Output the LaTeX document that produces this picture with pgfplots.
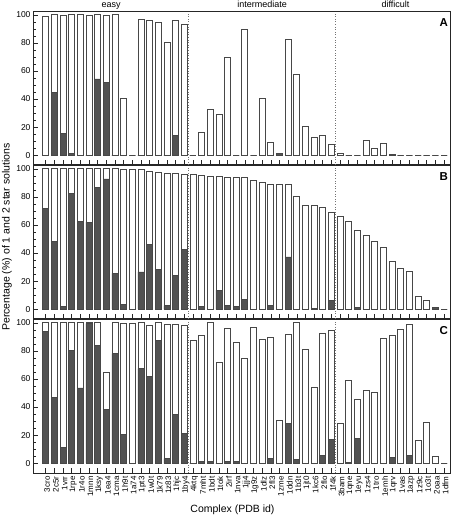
\documentclass[border=0pt]{standalone}
\usepackage{fontspec}
\setmainfont{Liberation Sans}
\usepackage{pgfplots}
\usepackage{pgfplotstable}
\pgfplotsset{compat=1.18}

\pgfplotstableread{
x total dark
0 99 0
1 100 44.5
2 99.5 15.5
3 100 1.4
4 100 0
5 99.3 0
6 100 54.3
7 99.5 51.7
8 100 0
9 40.5 0
10 0 0
11 97 0
12 96.2 0
13 94.8 0
14 80.2 0
15 96.2 14.3
16 93.3 0
17 0 0
18 16.4 0
19 32.9 0
20 29.3 0
21 69.7 0
22 0 0
23 89.3 0
24 0 0
25 40.5 0
26 9.3 0
27 1 1
28 82.4 0
29 57.8 0
30 20.7 0
31 12.6 0
32 14.3 0
33 8 0
34 1.5 0
35 0 0
36 0 0
37 10.7 0
38 4.8 0
39 8.3 0
40 0.5 0
41 0 0
42 0 0
43 0 0
44 0 0
45 0 0
46 0 0
}\dataA

\pgfplotstableread{
x total dark
0 100 71.6
1 100 48.2
2 100 1.7
3 100 82.6
4 100 62.3
5 100 62.1
6 100 86.6
7 100 92.8
8 100 25.5
9 99.3 3.3
10 99.3 0
11 99.3 26.5
12 98.3 46.1
13 97.6 28.6
14 96.7 2.6
15 96.7 24.1
16 96.2 42.7
17 95.9 0
18 95.2 2.1
19 94.5 0
20 94.3 13.6
21 94 2.9
22 93.6 1.7
23 93.6 6.7
24 92.1 0
25 90.7 0
26 88.8 2.9
27 88.8 0
28 88.8 37.2
29 80.7 0
30 73.7 0
31 73.7 0.7
32 72.8 0
33 69.2 6.4
34 65.9 0
35 62.3 0
36 55.8 1.4
37 52.7 0
38 48 0
39 43.9 0
40 33.9 0
41 29.1 0
42 27 0
43 9.3 0
44 6.4 0
45 1 1
46 0 0
}\dataB

\pgfplotstableread{
x total dark
0 100 94
1 100 47.1
2 100 11
3 100 80.5
4 100 53.6
5 100 99.5
6 100 83.8
7 65 38.1
8 100 78
9 99.3 20.2
10 99.5 0
11 100 67.4
12 98.3 61.7
13 100 87.6
14 98.8 3.3
15 98.8 34.5
16 98.1 21
17 87.4 0
18 91 1
19 100 1
20 71.9 0
21 95.7 1.4
22 86.4 1.4
23 75 0
24 96.7 0
25 87.9 0
26 89.3 3.1
27 30.2 0
28 91.9 28.6
29 100 2.6
30 81 0
31 54.3 0
32 92.6 5.7
33 94.3 17
34 28.3 0
35 59.3 0.7
36 45.7 17.4
37 52.1 0
38 50.7 0
39 88.6 0
40 91.4 3.8
41 95 0
42 99 5.7
43 16.4 0
44 29.3 0
45 5 0
46 0 0
}\dataC

\tikzset{divider/.style={dotted, black!55, line width=0.6pt}}
\pgfplotsset{
  panel/.style={
    scale only axis, width=416.5pt, height=153pt,
    xmin=-1.35, xmax=46.75, ymin=-7, ymax=102,
    axis line style={line width=1pt, black!85},
    tick align=inside, tick pos=left,
    xtick={0,...,46}, ytick={0,20,...,100}, minor y tick num=3,
    major tick length=4.5pt, minor tick length=2.5pt,
    every tick/.style={black!85, line width=0.6pt},
    yticklabel style={font=\fontsize{8.5}{9}\selectfont},
    /pgf/number format/assume math mode=true,
    clip=false,
  },
  totbar/.style={ybar, bar width=6pt, bar shift=0pt, draw=black!72, fill=white, line width=0.7pt},
  darkbar/.style={ybar, bar width=6pt, bar shift=0pt, draw=black!72, fill=black!68, line width=0.7pt},
}

\begin{document}
\begin{tikzpicture}[x=1pt,y=1pt]
\useasboundingbox (0,0) rectangle (456,515);

% Panel A
\begin{axis}[panel, at={(34pt,350pt)}, anchor=south west, xticklabels={}]
  \draw[divider] (axis cs:16.5,-7) -- (axis cs:16.5,102);
  \draw[divider] (axis cs:33.5,-7) -- (axis cs:33.5,102);
  \addplot[totbar] table[x=x,y=total]{\dataA};
  \addplot[darkbar] table[x=x,y=dark]{\dataA};
  \node[anchor=base, yshift=4.5pt, font=\fontsize{9}{10}\selectfont] at (axis cs:7.57,102) {easy};
  \node[anchor=base, yshift=4.5pt, font=\fontsize{9}{10}\selectfont] at (axis cs:25,102) {intermediate};
  \node[anchor=base, yshift=4.5pt, font=\fontsize{9}{10}\selectfont] at (axis cs:40.4,102) {difficult};
  \node[font=\bfseries\fontsize{11.5}{12}\selectfont] at (rel axis cs:0.984,0.93) {A};
\end{axis}

% Panel B
\begin{axis}[panel, at={(34pt,196pt)}, anchor=south west, xticklabels={}]
  \draw[divider] (axis cs:16.5,-7) -- (axis cs:16.5,102);
  \draw[divider] (axis cs:33.5,-7) -- (axis cs:33.5,102);
  \addplot[totbar] table[x=x,y=total]{\dataB};
  \addplot[darkbar] table[x=x,y=dark]{\dataB};
  \node[font=\bfseries\fontsize{11.5}{12}\selectfont] at (rel axis cs:0.984,0.93) {B};
\end{axis}

% Panel C
\begin{axis}[panel, at={(34pt,42pt)}, anchor=south west,
  xticklabels={3cro,2c5r,1vrr,1rpe,1r4o,1mnn,1ksy,1ea4,1cma,1h9t,1a74,1pt3,1w0t,1k79,1z83,1hjc,1by4,4ktq,7mht,1bdt,1tok,2irf,1nva,1jj4,1g9z,1dlz,2fl3,1zme,1ddn,1b3t,1jt0,1kc6,2flo,1f4k,3bam,1qne,1eyu,1zs4,1tro,1emh,1qrv,1vas,1azp,1z9c,1o3t,2oaa,1dfm},
  xticklabel style={rotate=90, anchor=east, font=\fontsize{8}{9}\selectfont, yshift=-1.5pt}]
  \draw[divider] (axis cs:16.5,-7) -- (axis cs:16.5,102);
  \draw[divider] (axis cs:33.5,-7) -- (axis cs:33.5,102);
  \addplot[totbar] table[x=x,y=total]{\dataC};
  \addplot[darkbar] table[x=x,y=dark]{\dataC};
  \node[font=\bfseries\fontsize{11.5}{12}\selectfont] at (rel axis cs:0.984,0.93) {C};
\end{axis}

\node[rotate=90, font=\fontsize{10.5}{12}\selectfont] at (7,278) {Percentage (\%) of 1 and 2 star solutions};
\node[anchor=base, font=\fontsize{10.5}{12}\selectfont] at (232.5,2.5) {Complex (PDB id)};
\end{tikzpicture}
\end{document}
